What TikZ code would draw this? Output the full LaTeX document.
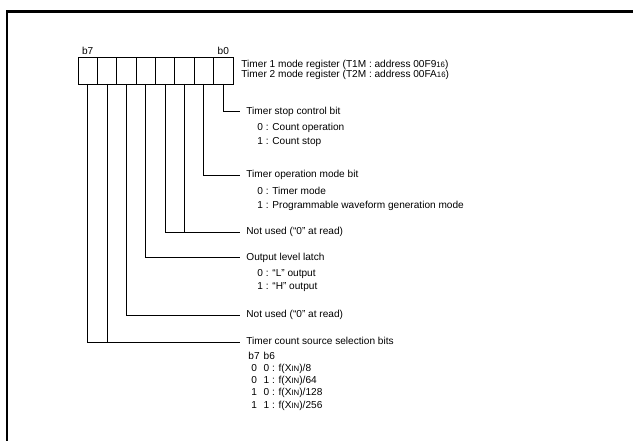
\documentclass[tikz,border=0pt]{standalone}
\usepackage{fontspec}
\setmainfont{Liberation Sans}
\usetikzlibrary{positioning}
\newcommand{\smallpart}[1]{{\fontsize{7.8}{7.8}\selectfont #1}} % small digits / letters after a value
\newcommand{\xin}{X\smallpart{IN}}
\tikzset{
bitcell/.style={draw, minimum width=19.375pt, minimum height=27pt, inner sep=0pt, outer sep=0pt},
bitlabel/.style={inner sep=0pt, above=2pt of #1},
title/.style={anchor=west, inner xsep=6pt, inner ysep=0pt, text height=0.75em, text depth=0.25em},
sub/.style={align=left, inner sep=0pt, anchor=north west},
frame/.style={line width=2.5pt},
}

\begin{document}
\begin{tikzpicture}[x=1pt, y=-1pt, line width=0.9pt, font=\fontsize{10.1}{13.5}\selectfont]
            \useasboundingbox (0,0) rectangle (633,441);
            \draw [frame] (7,441) |- (633,11.3);
            \foreach \i in {0,...,7}
                \node [bitcell] (c\i) at ({233-19.375*(\i+0.5)},70.5) {};
            \node [bitlabel=c7] (l7) {b7};
            \node [bitlabel=c0] (l0) {b0};
            \node [sub, anchor=west, font=\fontsize{10.1}{10}\selectfont] (reg) at (241,69.5)
                {Timer 1 mode register (T1M : address 00F9\smallpart{16})\\Timer 2 mode register (T2M : address 00FA\smallpart{16})};

            \node [title] (stop) at (240,111.7) {Timer stop control bit};
            \node [sub, below right=6pt and 17pt of stop.south west] (stopv) {0 : Count operation\\1 : Count stop};
            \node [title] (mode) at (240,175.3) {Timer operation mode bit};
            \node [sub, below right=6pt and 17pt of mode.south west] (modev) {0 : Timer mode\\1 : Programmable waveform generation mode};
            \node [title] (nua) at (240,232.3) {Not used (“0” at read)};
            \node [title] (latch) at (240,257.7) {Output level latch};
            \node [sub, below right=5.5pt and 17pt of latch.south west] (latchv) {0 : “L” output\\1 : “H” output};
            \node [title] (nub) at (240,315) {Not used (“0” at read)};
            \node [title] (src) at (240,342.3) {Timer count source selection bits};
            \node [sub, below right=2.5pt and 8pt of src.south west, font=\fontsize{10.1}{12.2}\selectfont] (srcv)
                {\begin{tabular}{@{}c@{\hspace{4pt}}l@{}}
                 b7 & b6\\
                 0 & 0 : f(\xin)/8\\
                 0 & 1 : f(\xin)/64\\
                 1 & 0 : f(\xin)/128\\
                 1 & 1 : f(\xin)/256
                 \end{tabular}};

            \draw (c0.south) |- (stop.west);
            \draw (c1.south) |- (mode.west);
            \draw (c3.south) |- (nua.west);
            \draw (c2.south) -- (c2.south |- nua.west);
            \draw (c4.south) |- (latch.west);
            \draw (c5.south) |- (nub.west);
            \draw (c7.south) |- (src.west);
            \draw (c6.south) -- (c6.south |- src.west);
        \end{tikzpicture}
\end{document}
